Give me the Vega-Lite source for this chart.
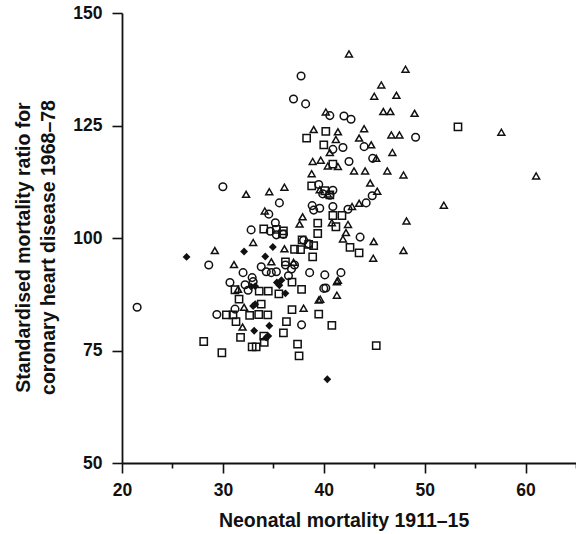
{
  "$schema": "https://vega.github.io/schema/vega-lite/v6.json",
  "width": 454,
  "height": 450,
  "autosize": {"type": "none"},
  "padding": {"left": 122, "top": 13, "right": 0, "bottom": 71},
  "background": "white",
  "config": {
    "view": {"stroke": null},
    "axis": {
      "grid": false,
      "domainColor": "#111",
      "domainWidth": 1.8,
      "tickColor": "#111",
      "tickWidth": 1.6,
      "labelFont": "Liberation Sans",
      "labelFontWeight": "bold",
      "labelFontSize": 17.5,
      "labelColor": "#111",
      "titleFont": "Liberation Sans",
      "titleFontWeight": "bold",
      "titleFontSize": 19.5,
      "titleColor": "#111"
    }
  },
  "data": {
    "values": [
      {"x": 42.5, "y": 140.9, "g": "T"}, {"x": 48.1, "y": 137.5, "g": "T"}, {"x": 45.7, "y": 134.0, "g": "T"},
      {"x": 45.0, "y": 131.5, "g": "T"}, {"x": 47.2, "y": 131.7, "g": "T"}, {"x": 45.9, "y": 128.1, "g": "T"},
      {"x": 46.6, "y": 128.1, "g": "T"}, {"x": 49.0, "y": 127.7, "g": "T"}, {"x": 40.2, "y": 128.0, "g": "T"},
      {"x": 39.0, "y": 124.1, "g": "T"}, {"x": 41.4, "y": 123.6, "g": "T"}, {"x": 44.0, "y": 124.3, "g": "T"},
      {"x": 46.7, "y": 122.9, "g": "T"}, {"x": 47.5, "y": 122.9, "g": "T"}, {"x": 57.6, "y": 123.5, "g": "T"},
      {"x": 41.2, "y": 121.9, "g": "T"}, {"x": 43.5, "y": 122.2, "g": "T"}, {"x": 44.7, "y": 120.7, "g": "T"},
      {"x": 40.6, "y": 119.0, "g": "T"}, {"x": 46.8, "y": 119.0, "g": "T"}, {"x": 45.2, "y": 117.7, "g": "T"},
      {"x": 38.9, "y": 117.0, "g": "T"}, {"x": 39.7, "y": 117.3, "g": "T"}, {"x": 40.4, "y": 116.0, "g": "T"},
      {"x": 41.4, "y": 115.9, "g": "T"}, {"x": 43.0, "y": 114.9, "g": "T"}, {"x": 44.1, "y": 114.9, "g": "T"},
      {"x": 46.3, "y": 114.9, "g": "T"}, {"x": 47.9, "y": 114.0, "g": "T"}, {"x": 38.8, "y": 114.3, "g": "T"},
      {"x": 61.05, "y": 113.8, "g": "T"}, {"x": 44.6, "y": 112.2, "g": "T"}, {"x": 45.3, "y": 110.4, "g": "T"},
      {"x": 32.3, "y": 109.7, "g": "T"}, {"x": 34.6, "y": 110.3, "g": "T"}, {"x": 36.1, "y": 111.3, "g": "T"},
      {"x": 39.6, "y": 110.7, "g": "T"}, {"x": 40.4, "y": 109.8, "g": "T"}, {"x": 51.9, "y": 107.3, "g": "T"},
      {"x": 43.5, "y": 107.7, "g": "T"}, {"x": 42.8, "y": 107.0, "g": "T"}, {"x": 34.15, "y": 106.0, "g": "T"},
      {"x": 37.9, "y": 104.7, "g": "T"}, {"x": 37.6, "y": 103.1, "g": "T"}, {"x": 40.8, "y": 103.4, "g": "T"},
      {"x": 48.2, "y": 103.8, "g": "T"}, {"x": 42.4, "y": 103.0, "g": "T"}, {"x": 42.2, "y": 101.2, "g": "T"},
      {"x": 41.9, "y": 99.8, "g": "T"}, {"x": 44.95, "y": 99.2, "g": "T"}, {"x": 33.0, "y": 99.0, "g": "T"},
      {"x": 29.2, "y": 97.2, "g": "T"}, {"x": 47.9, "y": 97.2, "g": "T"}, {"x": 36.1, "y": 97.6, "g": "T"},
      {"x": 44.9, "y": 95.5, "g": "T"}, {"x": 31.1, "y": 94.1, "g": "T"}, {"x": 34.8, "y": 94.7, "g": "T"},
      {"x": 37.0, "y": 94.6, "g": "T"}, {"x": 41.3, "y": 90.3, "g": "T"}, {"x": 41.4, "y": 90.6, "g": "T"},
      {"x": 41.3, "y": 87.3, "g": "T"}, {"x": 39.5, "y": 86.2, "g": "T"}, {"x": 39.65, "y": 86.4, "g": "T"},
      {"x": 38.0, "y": 84.4, "g": "T"}, {"x": 31.95, "y": 80.2, "g": "T"}, {"x": 32.1, "y": 84.6, "g": "T"},
      {"x": 31.5, "y": 88.6, "g": "T"},
      {"x": 37.75, "y": 136.0, "g": "C"}, {"x": 37.0, "y": 130.9, "g": "C"}, {"x": 38.2, "y": 129.8, "g": "C"},
      {"x": 40.6, "y": 127.2, "g": "C"}, {"x": 42.0, "y": 127.1, "g": "C"}, {"x": 42.7, "y": 126.4, "g": "C"},
      {"x": 49.1, "y": 122.4, "g": "C"}, {"x": 41.9, "y": 120.1, "g": "C"}, {"x": 40.9, "y": 119.7, "g": "C"},
      {"x": 44.0, "y": 120.3, "g": "C"}, {"x": 44.85, "y": 117.7, "g": "C"}, {"x": 42.5, "y": 117.0, "g": "C"},
      {"x": 30.0, "y": 111.4, "g": "C"}, {"x": 39.5, "y": 111.9, "g": "C"}, {"x": 39.9, "y": 109.8, "g": "C"},
      {"x": 40.9, "y": 110.6, "g": "C"}, {"x": 40.6, "y": 109.5, "g": "C"}, {"x": 44.2, "y": 107.8, "g": "C"},
      {"x": 44.8, "y": 109.4, "g": "C"}, {"x": 35.6, "y": 107.8, "g": "C"}, {"x": 38.85, "y": 107.2, "g": "C"},
      {"x": 39.6, "y": 106.6, "g": "C"}, {"x": 39.0, "y": 106.2, "g": "C"}, {"x": 40.9, "y": 107.0, "g": "C"},
      {"x": 42.4, "y": 106.4, "g": "C"}, {"x": 34.55, "y": 105.3, "g": "C"}, {"x": 35.2, "y": 103.4, "g": "C"},
      {"x": 43.6, "y": 100.2, "g": "C"}, {"x": 32.8, "y": 101.8, "g": "C"}, {"x": 34.7, "y": 101.5, "g": "C"},
      {"x": 35.3, "y": 100.7, "g": "C"}, {"x": 36.0, "y": 100.8, "g": "C"}, {"x": 38.0, "y": 99.5, "g": "C"},
      {"x": 38.5, "y": 98.7, "g": "C"}, {"x": 21.5, "y": 84.6, "g": "C"}, {"x": 28.6, "y": 94.0, "g": "C"},
      {"x": 37.1, "y": 94.0, "g": "C"}, {"x": 38.6, "y": 92.3, "g": "C"}, {"x": 40.1, "y": 91.8, "g": "C"},
      {"x": 41.7, "y": 92.3, "g": "C"}, {"x": 40.0, "y": 88.8, "g": "C"}, {"x": 40.2, "y": 88.9, "g": "C"},
      {"x": 37.8, "y": 80.7, "g": "C"}, {"x": 29.4, "y": 83.0, "g": "C"}, {"x": 31.2, "y": 84.2, "g": "C"},
      {"x": 30.7, "y": 90.1, "g": "C"}, {"x": 32.0, "y": 92.3, "g": "C"}, {"x": 32.2, "y": 89.6, "g": "C"},
      {"x": 32.5, "y": 88.4, "g": "C"}, {"x": 32.9, "y": 91.2, "g": "C"}, {"x": 33.8, "y": 93.6, "g": "C"},
      {"x": 34.3, "y": 92.5, "g": "C"}, {"x": 34.8, "y": 92.3, "g": "C"}, {"x": 35.3, "y": 92.5, "g": "C"},
      {"x": 36.5, "y": 91.6, "g": "C"}, {"x": 36.2, "y": 94.0, "g": "C"}, {"x": 36.8, "y": 93.1, "g": "C"},
      {"x": 33.0, "y": 90.3, "g": "C"},
      {"x": 40.2, "y": 123.7, "g": "S"}, {"x": 38.3, "y": 122.2, "g": "S"}, {"x": 53.3, "y": 124.7, "g": "S"},
      {"x": 40.0, "y": 120.7, "g": "S"}, {"x": 40.9, "y": 116.4, "g": "S"}, {"x": 38.8, "y": 111.6, "g": "S"},
      {"x": 40.1, "y": 110.5, "g": "S"}, {"x": 40.6, "y": 109.6, "g": "S"}, {"x": 40.9, "y": 105.0, "g": "S"},
      {"x": 41.8, "y": 105.0, "g": "S"}, {"x": 39.4, "y": 103.3, "g": "S"}, {"x": 41.2, "y": 102.5, "g": "S"},
      {"x": 39.4, "y": 101.0, "g": "S"}, {"x": 34.05, "y": 102.0, "g": "S"}, {"x": 35.3, "y": 101.9, "g": "S"},
      {"x": 36.0, "y": 101.6, "g": "S"}, {"x": 35.9, "y": 100.9, "g": "S"}, {"x": 42.6, "y": 97.9, "g": "S"},
      {"x": 43.5, "y": 96.7, "g": "S"}, {"x": 37.85, "y": 99.6, "g": "S"}, {"x": 38.5, "y": 98.6, "g": "S"},
      {"x": 39.0, "y": 98.3, "g": "S"}, {"x": 37.1, "y": 97.5, "g": "S"}, {"x": 37.7, "y": 97.4, "g": "S"},
      {"x": 36.2, "y": 94.7, "g": "S"}, {"x": 36.85, "y": 90.2, "g": "S"}, {"x": 37.8, "y": 88.6, "g": "S"},
      {"x": 35.55, "y": 87.6, "g": "S"}, {"x": 36.85, "y": 84.1, "g": "S"}, {"x": 39.5, "y": 83.1, "g": "S"},
      {"x": 36.3, "y": 81.4, "g": "S"}, {"x": 40.8, "y": 80.6, "g": "S"}, {"x": 36.0, "y": 78.9, "g": "S"},
      {"x": 37.4, "y": 76.4, "g": "S"}, {"x": 37.55, "y": 73.8, "g": "S"}, {"x": 45.2, "y": 76.1, "g": "S"},
      {"x": 28.1, "y": 77.0, "g": "S"}, {"x": 29.9, "y": 74.5, "g": "S"}, {"x": 32.9, "y": 75.8, "g": "S"},
      {"x": 33.3, "y": 75.8, "g": "S"}, {"x": 34.1, "y": 76.8, "g": "S"}, {"x": 31.75, "y": 77.9, "g": "S"},
      {"x": 34.05, "y": 78.2, "g": "S"}, {"x": 31.3, "y": 81.4, "g": "S"}, {"x": 30.35, "y": 82.9, "g": "S"},
      {"x": 31.0, "y": 82.9, "g": "S"}, {"x": 32.65, "y": 82.8, "g": "S"}, {"x": 33.55, "y": 83.0, "g": "S"},
      {"x": 34.45, "y": 82.9, "g": "S"}, {"x": 33.8, "y": 85.3, "g": "S"}, {"x": 31.6, "y": 86.4, "g": "S"},
      {"x": 31.2, "y": 88.5, "g": "S"}, {"x": 33.6, "y": 88.2, "g": "S"}, {"x": 34.5, "y": 88.2, "g": "S"},
      {"x": 38.9, "y": 95.8, "g": "S"},
      {"x": 26.4, "y": 95.8, "g": "D"}, {"x": 32.1, "y": 97.0, "g": "D"}, {"x": 34.2, "y": 95.9, "g": "D"},
      {"x": 34.95, "y": 98.0, "g": "D"}, {"x": 33.2, "y": 85.3, "g": "D"}, {"x": 33.0, "y": 84.9, "g": "D"},
      {"x": 34.5, "y": 78.2, "g": "D"}, {"x": 33.1, "y": 79.4, "g": "D"}, {"x": 34.6, "y": 80.5, "g": "D"},
      {"x": 32.8, "y": 89.2, "g": "D"}, {"x": 33.2, "y": 89.3, "g": "D"}, {"x": 35.35, "y": 90.1, "g": "D"},
      {"x": 35.6, "y": 89.5, "g": "D"}, {"x": 35.8, "y": 90.6, "g": "D"}, {"x": 36.2, "y": 87.7, "g": "D"},
      {"x": 40.35, "y": 68.6, "g": "D"}, {"x": 34.3, "y": 77.9, "g": "D"}
    ]
  },
  "encoding": {
    "x": {
      "field": "x",
      "type": "quantitative",
      "scale": {"domain": [20, 65], "nice": false, "zero": false},
      "axis": {
        "title": "Neonatal mortality 1911–15",
        "values": [20, 25, 30, 35, 40, 45, 50, 55, 60, 65],
        "labelExpr": "datum.value % 10 === 0 && datum.value < 65 ? datum.label : ''",
        "tickSize": {"condition": {"test": "datum.value % 10 === 0", "value": 10}, "value": 5},
        "labelBaseline": "alphabetic",
        "labelPadding": 22,
        "labelFlush": false,
        "labelOverlap": false,
        "titleX": 221.6,
        "titleY": 63,
        "titleBaseline": "alphabetic"
      }
    },
    "y": {
      "field": "y",
      "type": "quantitative",
      "scale": {"domain": [50, 150], "nice": false, "zero": false},
      "axis": {
        "title": ["Standardised mortality ratio for", "coronary heart disease 1968–78"],
        "values": [50, 75, 100, 125, 150],
        "tickSize": 10,
        "labelPadding": 10,
        "labelFlush": false,
        "labelOverlap": false,
        "titleX": -92.5,
        "titleY": 234,
        "titleBaseline": "alphabetic",
        "titleLineHeight": 25
      }
    }
  },
  "layer": [
    {
      "transform": [{"filter": "datum.g !== 'D'"}],
      "mark": {"type": "point", "filled": false, "strokeWidth": 1.5, "color": "#111", "opacity": 1},
      "encoding": {
        "shape": {
          "field": "g",
          "type": "nominal",
          "scale": {"domain": ["C", "S", "T"], "range": ["circle", "square", "triangle-up"]},
          "legend": null
        },
        "size": {
          "field": "g",
          "type": "nominal",
          "scale": {"domain": ["C", "S", "T"], "range": [58, 48, 52]},
          "legend": null
        }
      }
    },
    {
      "transform": [{"filter": "datum.g === 'D'"}],
      "mark": {"type": "point", "filled": true, "shape": "diamond", "size": 62, "color": "#111", "opacity": 1},
      "encoding": {}
    }
  ]
}
